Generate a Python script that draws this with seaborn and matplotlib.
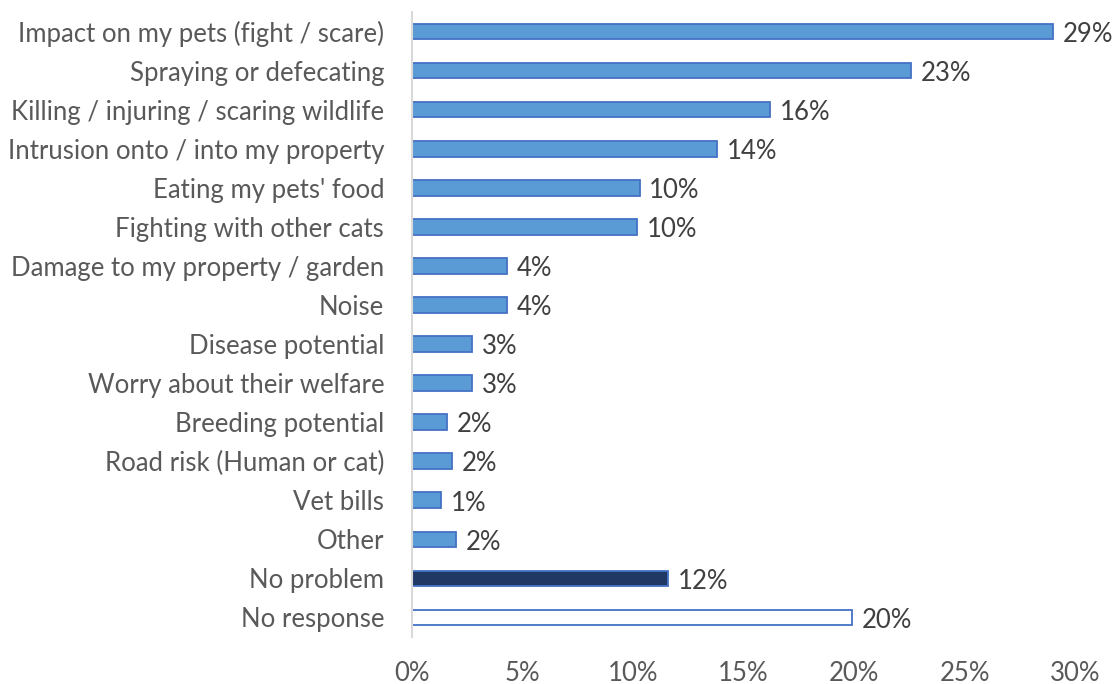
import matplotlib
matplotlib.use("Agg")
import matplotlib.pyplot as plt
import seaborn as sns
import pandas as pd

categories = [
    "Impact on my pets (fight / scare)",
    "Spraying or defecating",
    "Killing / injuring / scaring wildlife",
    "Intrusion onto / into my property",
    "Eating my pets' food",
    "Fighting with other cats",
    "Damage to my property / garden",
    "Noise",
    "Disease potential",
    "Worry about their welfare",
    "Breeding potential",
    "Road risk (Human or cat)",
    "Vet bills",
    "Other",
    "No problem",
    "No response",
]
shares = [0.290, 0.226, 0.162, 0.138, 0.103, 0.102, 0.043, 0.043,
          0.027, 0.027, 0.016, 0.018, 0.013, 0.020, 0.116, 0.199]

BLUE = "#5B9BD5"
EDGE = "#4472C4"
NAVY = "#203864"
fills = [BLUE] * 14 + [NAVY, "white"]

df = pd.DataFrame({"category": categories, "share": shares})

sns.set_theme(style="white")
plt.rcParams["font.family"] = ["Lato", "DejaVu Sans"]

fig = plt.figure(figsize=(11.18, 6.84), dpi=100)
ax = fig.add_axes([412 / 1118, 1 - 637 / 684, (1075 - 412) / 1118, (637 - 12) / 684])

sns.barplot(data=df, y="category", x="share", hue="category",
            palette=fills, legend=False, width=0.4, ax=ax,
            edgecolor=EDGE, linewidth=1.3, saturation=1)

for patch, val in zip(ax.patches, shares):
    y = patch.get_y() + patch.get_height() / 2
    ax.annotate(f"{val:.0%}", (val, y), xytext=(7, -2), textcoords="offset points",
                ha="left", va="center", fontsize=18.5, color="#404040")

ax.set_xlim(0, 0.30)
ax.set_ylim(len(categories) - 0.5, -0.5)
ax.set_xticks([0, 0.05, 0.10, 0.15, 0.20, 0.25, 0.30])
ax.set_xticklabels(["0%", "5%", "10%", "15%", "20%", "25%", "30%"])
ax.tick_params(axis="x", labelsize=18.5, labelcolor="#595959", length=0, pad=17)
ax.tick_params(axis="y", labelsize=18.5, labelcolor="#595959", length=0, pad=20)
ax.set_xlabel("")
ax.set_ylabel("")

for side in ["top", "right", "bottom"]:
    ax.spines[side].set_visible(False)
ax.spines["left"].set_color("#D9D9D9")
ax.spines["left"].set_linewidth(1.5)

fig.savefig("out.png", dpi=100)
